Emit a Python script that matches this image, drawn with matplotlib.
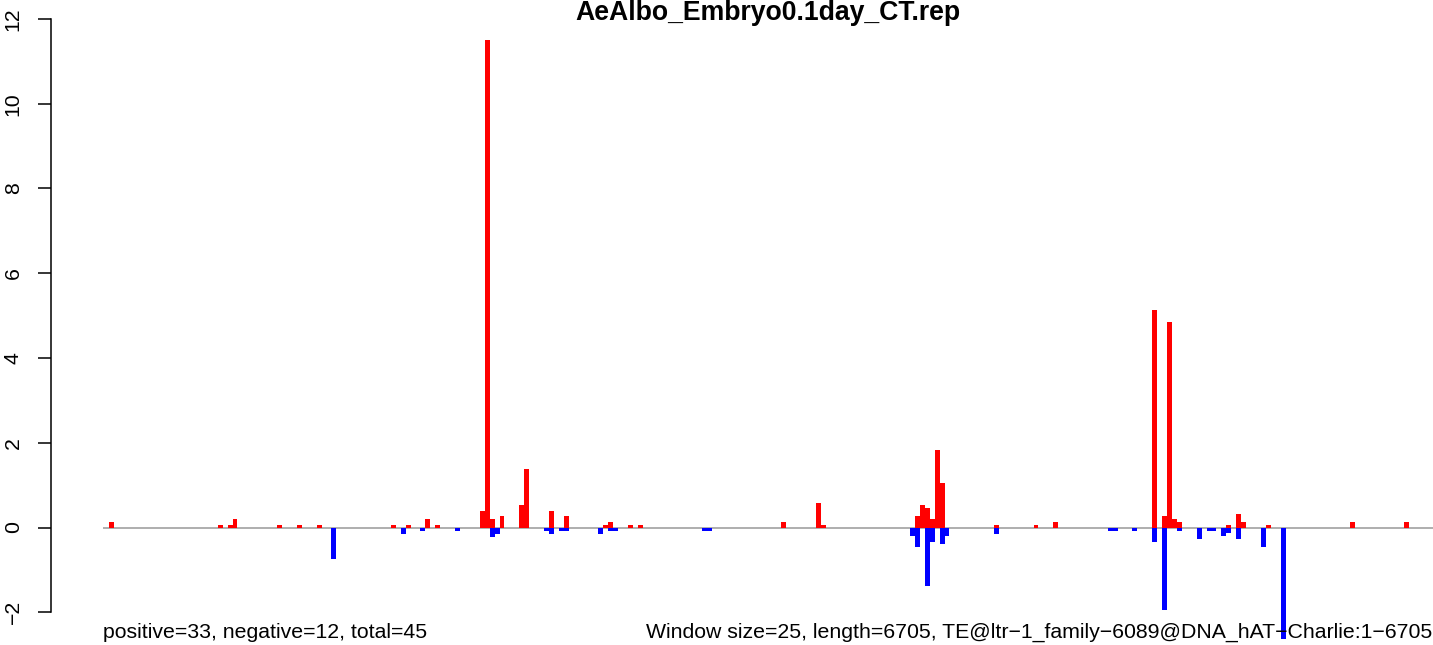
import matplotlib
matplotlib.use("Agg")
import matplotlib.pyplot as plt

plt.rcParams['font.family'] = ['Liberation Sans', 'DejaVu Sans']

title = "AeAlbo_Embryo0.1day_CT.rep"
left_note = "positive=33, negative=12, total=45"
right_note = "Window size=25, length=6705, TE@ltr\u22121_family\u22126089@DNA_hAT\u2212Charlie:1\u22126705"

# window indices and values (positive strand, red)
pos_idx = [1, 23, 25, 26, 35, 39, 43, 58, 61, 65, 67,
           76, 77, 78, 80, 84, 85, 90, 93, 101, 102, 106, 108,
           137, 144, 145, 164, 165, 166, 167, 168, 169, 180, 188, 192,
           212, 214, 215, 216, 217, 227, 229, 230, 235, 252, 263]
pos_val = [0.13, 0.06, 0.06, 0.20, 0.06, 0.06, 0.06, 0.06, 0.06, 0.20, 0.06,
           0.39, 11.50, 0.20, 0.28, 0.54, 1.39, 0.39, 0.28, 0.06, 0.13, 0.06, 0.06,
           0.13, 0.58, 0.06, 0.28, 0.54, 0.46, 0.20, 1.83, 1.05, 0.06, 0.06, 0.13,
           5.13, 0.28, 4.86, 0.21, 0.14, 0.06, 0.32, 0.13, 0.06, 0.13, 0.13]

# negative strand, blue
neg_idx = [46, 60, 64, 71, 78, 79, 89, 90, 92, 93, 100, 102, 103, 121, 122,
           163, 164, 166, 167, 169, 170, 180, 203, 204, 208,
           212, 214, 217, 221, 223, 224, 226, 227, 229, 234, 238]
neg_val = [-0.74, -0.15, -0.08, -0.08, -0.22, -0.15, -0.08, -0.15, -0.08, -0.08,
           -0.15, -0.08, -0.08, -0.08, -0.08,
           -0.21, -0.47, -1.37, -0.33, -0.40, -0.21, -0.15, -0.08, -0.08, -0.08,
           -0.33, -1.95, -0.07, -0.26, -0.07, -0.07, -0.21, -0.14, -0.26, -0.47, -2.70]

yticks = [-2, 0, 2, 4, 6, 8, 10, 12]
ytick_labels = ["\u22122", "0", "2", "4", "6", "8", "10", "12"]

W, H = 1433, 645
fig = plt.figure(figsize=(W / 100, H / 100), dpi=100)
ax = fig.add_axes([103 / W, 6 / H, 1330 / W, (639 - 16) / H])

ax.bar(pos_idx, pos_val, width=1.0, align='edge', color='#FF0000',
       linewidth=0, antialiased=False, zorder=3)
ax.bar(neg_idx, neg_val, width=1.0, align='edge', color='#0000FF',
       linewidth=0, antialiased=False, zorder=3)
ax.axhline(0, color='#999999', lw=1.1, zorder=2)

ax.set_xlim(-0.2, 268.8)
ax.set_ylim(-2.63, 12.07)

for s in ['top', 'right', 'bottom']:
    ax.spines[s].set_visible(False)
ax.spines['left'].set_position(('outward', 37.4))
ax.spines['left'].set_bounds(-2, 12)
ax.spines['left'].set_linewidth(1.1)
ax.set_xticks([])
ax.set_yticks(yticks)
ax.set_yticklabels(ytick_labels, rotation=90, va='center', fontsize=15.3)
ax.tick_params(axis='y', length=9.4, width=1.1, pad=11)

fig.text((103 + 1433) / 2 / W, (H - 19.5) / H, title, ha='center', va='baseline',
         fontsize=19.2, fontweight='bold')
fig.text(103 / W, 7 / H, left_note, ha='left', va='baseline', fontsize=15.3)
fig.text(1432 / W, 7 / H, right_note, ha='right', va='baseline', fontsize=15.3)

fig.savefig("out.png", dpi=100)
